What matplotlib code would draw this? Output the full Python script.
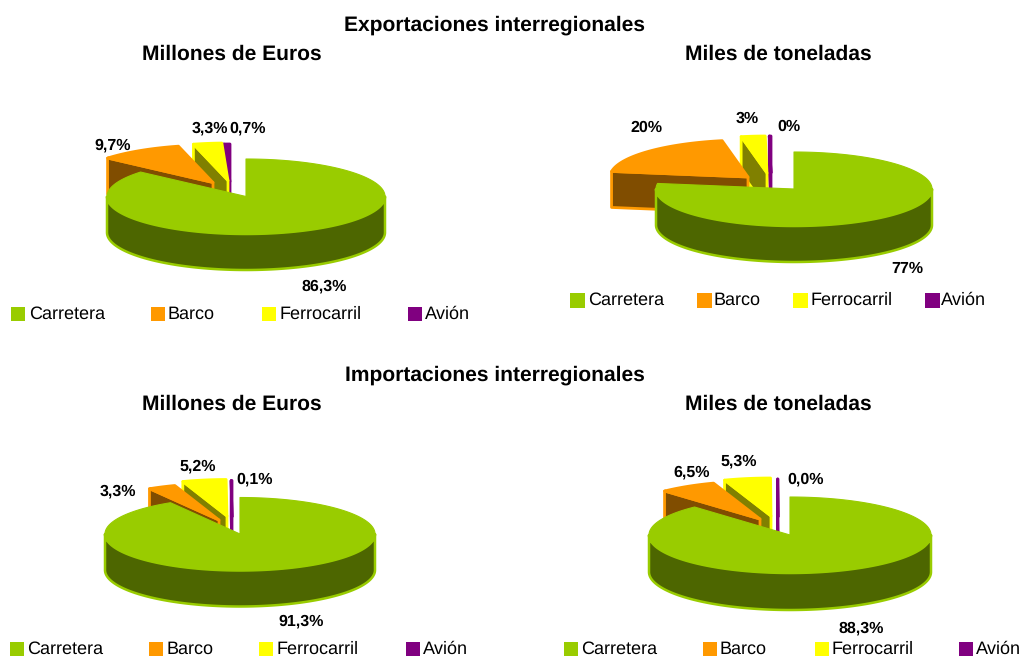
import numpy as np
import matplotlib
matplotlib.use("Agg")
import matplotlib.pyplot as plt
from matplotlib.patches import Polygon, Rectangle

plt.rcParams['font.family'] = ['Liberation Sans', 'DejaVu Sans']
plt.rcParams['text.hinting'] = 'no_hinting'
plt.rcParams['text.hinting_factor'] = 1

categories = ["Carretera", "Barco", "Ferrocarril", "Avión"]

# Values (the near-zero slices still show as slivers)
export_eur = [86.3, 9.7, 3.3, 0.7]
export_ton = [77.4, 19.6, 2.8, 0.2]
import_eur = [91.3, 3.3, 5.2, 0.1]
import_ton = [88.3, 6.5, 5.3, 0.05]

export_eur_labels = ["86,3%", "9,7%", "3,3%", "0,7%"]
export_ton_labels = ["77%", "20%", "3%", "0%"]
import_eur_labels = ["91,3%", "3,3%", "5,2%", "0,1%"]
import_ton_labels = ["88,3%", "6,5%", "5,3%", "0,0%"]

top_colors = ["#99CC00", "#FF9900", "#FFFF00", "#800080"]
side_colors = ["#4D6600", "#804D00", "#808000", "#400040"]

W, H = 1025, 658
fig = plt.figure(figsize=(W / 100, H / 100), dpi=100)
ax = fig.add_axes([0, 0, 1, 1])
ax.set_xlim(0, W)
ax.set_ylim(H, 0)
ax.axis("off")


def point(c, rx, ry, t):
    return c[0] + rx * np.sin(t), c[1] - ry * np.cos(t)


def draw_pie(values, cx, cy, rx, ry, depth, offsets):
    total = sum(values)
    edges = np.deg2rad(np.cumsum([0] + list(values)) / total * 360)
    for i in [3, 2, 1, 0]:
        t0, t1 = edges[i], edges[i + 1]
        c = (cx + offsets[i][0], cy + offsets[i][1])
        ts = np.linspace(t0, t1, max(int(np.degrees(t1 - t0)), 2) + 1)
        xs, ys = point(c, rx, ry, ts)
        top = np.column_stack([np.r_[c[0], xs], np.r_[c[1], ys]])
        lw = 2.0 if i else 1.8
        # front wall (only where the outer surface faces the viewer)
        a0, a1 = max(t0, np.pi / 2), min(t1, 3 * np.pi / 2)
        if a1 > a0:
            ta = np.linspace(a0, a1, 200)
            xa, ya = point(c, rx, ry, ta)
            wall = np.column_stack([np.r_[xa, xa[::-1]], np.r_[ya, ya[::-1] + depth]])
            ax.add_patch(Polygon(wall, closed=True, fc=side_colors[i], ec=top_colors[i], lw=lw, joinstyle="round"))
        # cut face visible at the end of the slice
        if i:
            ex, ey = point(c, rx, ry, t0)
            face = [(ex, ey), c, (c[0], c[1] + depth), (ex, ey + depth)]
            ax.add_patch(Polygon(face, closed=True, fc=side_colors[i], ec=top_colors[i], lw=lw, joinstyle="round"))
        ax.add_patch(Polygon(top, closed=True, fc=top_colors[i], ec=top_colors[i], lw=lw if i else 0.8, joinstyle="round"))


def slice_labels(labels, positions):
    for s, (x, y) in zip(labels, positions):
        ax.text(x, y + 1, s, ha="center", va="center", fontsize=11.3, fontweight="bold", color="black")


def legend(y, box_x, text_x, size=14):
    for i, name in enumerate(categories):
        ax.add_patch(Rectangle((box_x[i], y - size / 2), size, size, fc=top_colors[i], ec="none"))
        ax.text(text_x[i], y + 0.5, name, ha="left", va="center", fontsize=13.2, color="black")


draw_pie(export_eur, 246, 197.5, 139, 37.5, 36, [(0, -1), (-33, -15), (-18, -17), (-16, -16)])
draw_pie(export_ton, 794, 189, 138, 37, 36, [(0, 0), (-46, -12), (-27, -16), (-23, -16)])
draw_pie(import_eur, 241, 534, 135, 36.5, 36, [(-1, 0), (-22, -14), (-14, -18), (-9, -17)])
draw_pie(import_ton, 790, 535, 141, 38, 37, [(0, 0), (-30, -16), (-19, -19), (-12, -18)])

slice_labels(export_eur_labels, [(324, 285), (113, 144), (210, 127), (248, 127)])
slice_labels(export_ton_labels, [(907, 268), (646, 127), (747, 118), (789, 126)])
slice_labels(import_eur_labels, [(301, 620), (118, 490), (198, 465), (255, 478)])
slice_labels(import_ton_labels, [(861, 627), (692, 471), (739, 460), (806, 478)])

for s, x, y in [("Exportaciones interregionales", 495, 25.5), ("Millones de Euros", 232, 54.5),
                ("Miles de toneladas", 778, 54.5), ("Importaciones interregionales", 495, 375.5),
                ("Millones de Euros", 232, 404.5), ("Miles de toneladas", 778, 404.5)]:
    ax.text(x, y, s, ha="center", va="center", fontsize=15.2, fontweight="bold", color="black")

legend(314, [11, 151, 262, 408], [29, 168, 280, 425])
legend(300, [570, 697, 793, 925], [588, 714, 811, 941], 15)
legend(649, [10, 149, 259, 406], [27, 167, 277, 423])
legend(649, [564, 703, 815, 959], [581, 720, 832, 976])

fig.savefig("out.png", dpi=100)
